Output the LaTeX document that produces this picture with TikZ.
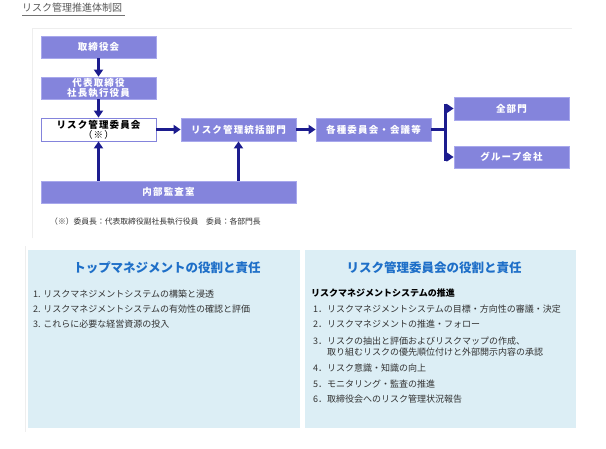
\documentclass[tikz,border=0pt]{standalone}
\usepackage{fontspec}
\setmainfont{Noto Sans CJK JP}
\newfontfamily\boxfont{Noto Sans CJK JP}[LetterSpace=12]
\usetikzlibrary{arrows.meta}
\definecolor{boxfill}{HTML}{8484DC}
\definecolor{boxline}{HTML}{A8A8EC}
\definecolor{arrcol}{HTML}{1C1C8E}
\definecolor{panelblue}{HTML}{DCEEF5}
\definecolor{titleblue}{HTML}{1E6FC8}
\definecolor{txtgray}{HTML}{333333}
\definecolor{faint}{HTML}{EEEEEE}
\begin{document}
\begin{tikzpicture}[x=1pt,y=-1pt,
  orgbox/.style={rectangle,draw=boxline,fill=boxfill,line width=0.8pt,text=white,
    font=\boxfont\fontsize{9.5}{10}\selectfont\bfseries,inner sep=0pt,align=center,
    minimum width=115pt,minimum height=22pt},
  whitebox/.style={orgbox,fill=white,draw=boxfill,text=black},
  arr/.style={draw=arrcol,line width=3pt,-{Triangle[width=9pt,length=7pt]}},
  conn/.style={draw=arrcol,line width=3pt},
  paneltitle/.style={font=\fontsize{12.5}{14}\selectfont\bfseries,text=titleblue,inner sep=0pt},
  item/.style={anchor=west,font=\fontsize{9}{10}\selectfont,text=txtgray,inner sep=0pt},
  subhead/.style={anchor=west,font=\fontsize{9}{10}\selectfont\bfseries,text=black,inner sep=0pt},
  panel/.style={fill=panelblue,draw=none},
  frameline/.style={draw=faint,line width=0.8pt}
]
\useasboundingbox[fill=white] (0,0) rectangle (606,448);

% heading
\node[anchor=west,inner sep=0pt,text=black!65,font=\fontsize{10}{11}\selectfont] (head) at (22,8) {リスク管理推進体制図};
\draw[black!55,line width=0.6pt] (head.south west) ++(0,2.5) -- ++(103,0);

% faint frames
\draw[frameline] (32,238) -- (32,28) -- (572,28);
\draw[frameline] (25,246) -- (25,432);

% org boxes
\node[orgbox] (bod) at (98.5,47) {取締役会};
\node[orgbox,font=\boxfont\fontsize{9.5}{9.5}\selectfont\bfseries] (pres) at (98.5,88) {代表取締役\\社長執行役員};
\node[whitebox,minimum height=23pt] (rmc) at (98.5,129.5) {リスク管理委員会\\{\mdseries（※）}};
\node[orgbox,minimum height=23pt] (rmd) at (238.5,129.5) {リスク管理統括部門};
\node[orgbox,minimum width=255pt] (audit) at (168.5,192) {内部監査室};
\node[orgbox,minimum height=23pt] (comm) at (373.5,129.5) {各種委員会・会議等};
\node[orgbox,minimum height=23pt] (alld) at (511.5,108.5) {全部門};
\node[orgbox] (grp) at (511.5,157) {グループ会社};

% connectors
\draw[arr] (bod.south) -- (pres.north);
\draw[arr] (pres.south) -- (rmc.north);
\draw[arr] (rmc.east) -- (rmd.west);
\draw[arr] (rmd.east) -- (comm.west);
\draw[arr] (audit.north -| rmc.south) -- (rmc.south);
\draw[arr] (audit.north -| rmd.south) -- (rmd.south);
\coordinate (bt) at (445,104);
\coordinate (bb) at (445,161);
\draw[conn] (comm.east) -- (comm.east -| bt);
\draw[conn] (bt) -- (bb);
\draw[arr] (alld.west -| bt) -- (alld.west);
\draw[arr] (grp.west -| bt) -- (grp.west);

% footnote
\node[anchor=west,inner sep=0pt,text=txtgray,font=\fontsize{7.8}{9}\selectfont] (note) at (50,222) {（※）委員長：代表取締役副社長執行役員　委員：各部門長};

% bottom panels
\path[panel] (28,250) rectangle (300,428);
\path[panel] (305,250) rectangle (576,428);

\node[paneltitle] (lt) at (167,268) {トップマネジメントの役割と責任};
\node[item] (l1) at (33,294) {1. リスクマネジメントシステムの構築と浸透};
\node[item] (l2) at (33,309) {2. リスクマネジメントシステムの有効性の確認と評価};
\node[item] (l3) at (33,324) {3. これらに必要な経営資源の投入};

\node[paneltitle] (rt) at (434,268) {リスク管理委員会の役割と責任};
\node[subhead] (rs) at (311,293) {リスクマネジメントシステムの推進};
\node[item] (r1) at (313,309) {1．リスクマネジメントシステムの目標・方向性の審議・決定};
\node[item] (r2) at (313,324) {2．リスクマネジメントの推進・フォロー};
\node[item] (r3) at (313,341) {3．リスクの抽出と評価およびリスクマップの作成、};
\node[item] (r3b) at (327,352) {取り組むリスクの優先順位付けと外部開示内容の承認};
\node[item] (r4) at (313,368) {4．リスク意識・知識の向上};
\node[item] (r5) at (313,384) {5．モニタリング・監査の推進};
\node[item] (r6) at (313,399) {6．取締役会へのリスク管理状況報告};
\end{tikzpicture}
\end{document}
